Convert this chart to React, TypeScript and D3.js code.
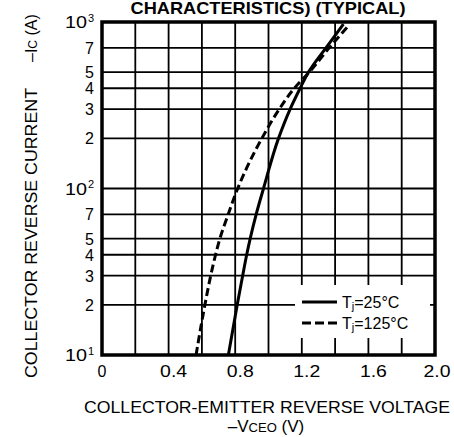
import React from "react";
import * as d3 from "d3";

// readings
const voltTicks = [0, 0.4, 0.8, 1.2, 1.6, 2.0];
const voltGrid = [0.2, 0.4, 0.6, 0.8, 1.0, 1.2, 1.4, 1.6, 1.8];
const currentTicks = [10, 20, 30, 40, 50, 70, 100, 200, 300, 400, 500, 700, 1000];

const tj25Current = [10, 20, 30, 40, 50, 70, 100, 200, 300, 400, 500, 700, 970];
const tj25Voltage = [0.759, 0.812, 0.845, 0.869, 0.89, 0.926, 0.97, 1.06, 1.13, 1.19, 1.24, 1.345, 1.45];
const tj125Current = [10, 20, 30, 40, 50, 70, 100, 200, 300, 400, 500, 700, 950];
const tj125Voltage = [0.565, 0.618, 0.653, 0.682, 0.708, 0.758, 0.815, 0.96, 1.065, 1.155, 1.245, 1.365, 1.48];

const W = 454;
const H = 437;
const margin = { top: 22, right: 19, bottom: 82, left: 102 };
const FONT = "'Liberation Sans', Arial, Helvetica, sans-serif";

export default function App() {
  const x = d3.scaleLinear().domain([0, 2]).range([margin.left, W - margin.right]);
  const y = d3.scaleLog().domain([10, 1000]).range([H - margin.bottom, margin.top]);

  const line = d3
    .line<[number, number]>()
    .x((d) => x(d[0]))
    .y((d) => y(d[1]))
    .curve(d3.curveMonotoneY);

  const pts25 = tj25Voltage.map((v, i) => [v, tj25Current[i]] as [number, number]);
  const pts125 = tj125Voltage.map((v, i) => [v, tj125Current[i]] as [number, number]);

  const [x0, x1] = x.range();
  const [y0, y1] = y.range(); // y0 bottom, y1 top

  const isPow10 = (v: number) => Math.abs(Math.log10(v) - Math.round(Math.log10(v))) < 1e-9;

  // legend box
  const lg = { x: 295, y: 285, w: 135, h: 53 };

  return (
    <svg
      width={W}
      height={H}
      style={{ position: "absolute", left: 0, top: 0, background: "#fff" }}
      fontFamily={FONT}
    >
      {/* title (cut at top) */}
      <text
        x={268}
        y={14}
        textAnchor="middle"
        fontWeight="bold"
        fontSize={17}
        textLength={275}
        lengthAdjust="spacingAndGlyphs"
      >
        CHARACTERISTICS) (TYPICAL)
      </text>

      {/* grid */}
      <g stroke="#000" strokeWidth={1.8}>
        {voltGrid.map((v) => (
          <line key={"v" + v} x1={x(v)} x2={x(v)} y1={y1} y2={y0} />
        ))}
        {currentTicks
          .filter((c) => c > 10 && c < 1000)
          .map((c) => (
            <line key={"h" + c} x1={x0} x2={x1} y1={y(c)} y2={y(c)} />
          ))}
      </g>

      {/* curves */}
      <path d={line(pts25) || ""} fill="none" stroke="#000" strokeWidth={3} />
      <path
        d={line(pts125) || ""}
        fill="none"
        stroke="#000"
        strokeWidth={3}
        strokeDasharray="8,4"
      />

      {/* legend */}
      <rect x={lg.x} y={lg.y} width={lg.w} height={lg.h} fill="#fff" />
      <line x1={302} x2={337} y1={302} y2={302} stroke="#000" strokeWidth={3} />
      <line
        x1={302}
        x2={337}
        y1={323}
        y2={323}
        stroke="#000"
        strokeWidth={3}
        strokeDasharray="9,4"
      />
      <text x={342} y={307.5} fontSize={16}>
        T<tspan fontSize={11} dy={2}>j</tspan>
        <tspan dy={-2}>=25°C</tspan>
      </text>
      <text x={342} y={329} fontSize={16}>
        T<tspan fontSize={11} dy={2}>j</tspan>
        <tspan dy={-2}>=125°C</tspan>
      </text>

      {/* frame */}
      <rect
        x={x0}
        y={y1}
        width={x1 - x0}
        height={y0 - y1}
        fill="none"
        stroke="#000"
        strokeWidth={3.5}
      />

      {/* y tick labels */}
      <g fontSize={16}>
        {currentTicks.map((c) =>
          isPow10(c) ? (
            <g key={"yl" + c}>
              <text x={65} y={y(c) + 6} textLength={22} lengthAdjust="spacingAndGlyphs">
                10
              </text>
              <text x={88} y={y(c) - 0.5} fontSize={11}>
                {Math.round(Math.log10(c))}
              </text>
            </g>
          ) : (
            <text key={"yl" + c} x={94} y={y(c) + 6} textAnchor="end">
              {c / Math.pow(10, Math.floor(Math.log10(c)))}
            </text>
          )
        )}
      </g>

      {/* x tick labels */}
      <g fontSize={16}>
        {voltTicks.map((v) =>
          v === 0 ? (
            <text key="xl0" x={x(v)} y={377} textAnchor="middle">
              0
            </text>
          ) : (
            <text
              key={"xl" + v}
              x={x(v) + (v === 2 ? 2 : 5) - 13.5}
              y={377}
              textLength={27}
              lengthAdjust="spacingAndGlyphs"
            >
              {v.toFixed(1)}
            </text>
          )
        )}
      </g>

      {/* x axis title */}
      <text
        x={267}
        y={412.5}
        textAnchor="middle"
        fontSize={17}
        textLength={366}
        lengthAdjust="spacingAndGlyphs"
      >
        COLLECTOR-EMITTER REVERSE VOLTAGE
      </text>
      <text x={266} y={432} textAnchor="middle" fontSize={17}>
        –V<tspan fontSize={13}>CEO</tspan> (V)
      </text>

      {/* y axis title */}
      <g transform="rotate(-90)">
        <text
          x={-378}
          y={37}
          fontSize={17}
          textLength={290}
          lengthAdjust="spacingAndGlyphs"
        >
          COLLECTOR REVERSE CURRENT
        </text>
        <text x={-62} y={37} fontSize={16}>
          –I<tspan fontSize={12}>C</tspan> (A)
        </text>
      </g>
    </svg>
  );
}
